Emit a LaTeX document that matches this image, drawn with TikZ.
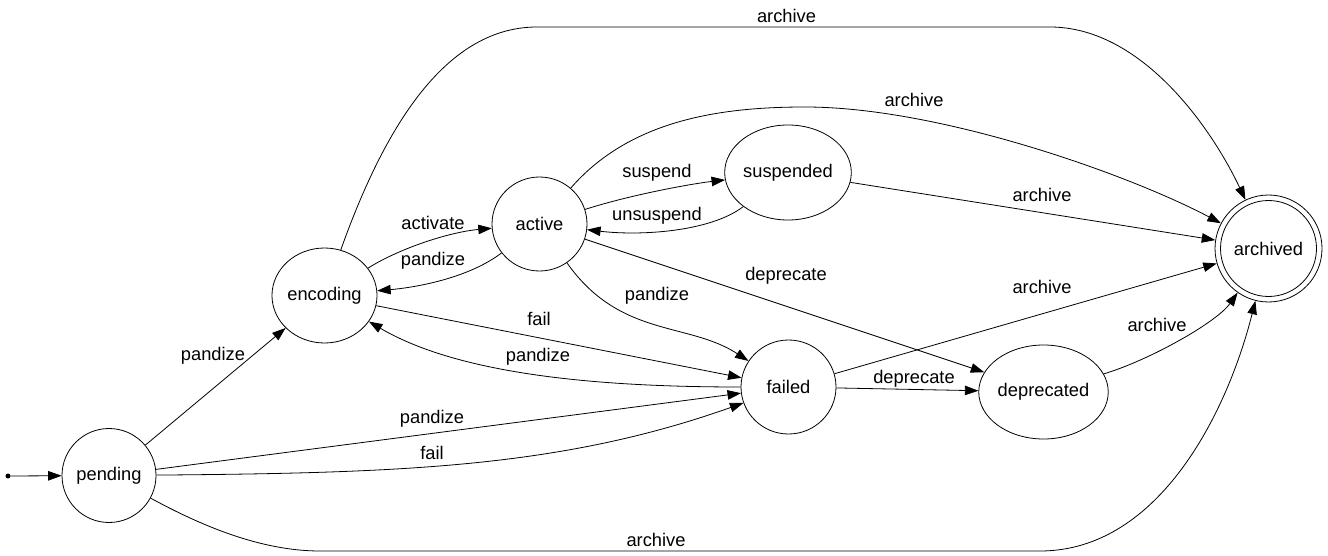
\documentclass[tikz,border=0pt]{standalone}
\usepackage{fontspec}
\setmainfont{Liberation Sans}
\usetikzlibrary{arrows.meta,shapes.geometric}
\begin{document}
\begin{tikzpicture}[x=1pt,y=-1pt,
  st/.style={ellipse, draw, line width=0.8pt, inner sep=0pt, font=\fontsize{18.3}{20}\selectfont},
  lbl/.style={inner sep=0pt, font=\fontsize{18.3}{20}\selectfont},
  arr/.style={line width=0.8pt, -{Triangle[length=13.5pt,width=9.5pt]}}]
\useasboundingbox (0,0) rectangle (1328,556);
% states
\node[circle, fill, inner sep=0pt, minimum size=5pt] (start) at (8,476) {};
\node[st, minimum width=94pt, minimum height=94pt] (pend) at (109,475.5) {pending};
\node[st, minimum width=104pt, minimum height=95pt] (enc) at (324.5,295.5) {encoding};
\node[st, minimum width=95pt, minimum height=94pt] (act) at (539.5,224) {active};
\node[st, minimum width=118pt, minimum height=95pt] (sus) at (788,172.5) {suspended};
\node[st, minimum width=95pt, minimum height=94pt] (fail) at (788.5,387) {failed};
\node[st, minimum width=119pt, minimum height=94pt] (dep) at (1043.5,392) {deprecated};
\node[circle, draw, line width=0.8pt, inner sep=0pt, minimum size=107pt, font=\fontsize{18.3}{20}\selectfont] (arch) at (1268.5,248.5) {archived};
\draw[line width=0.8pt] (arch.center) circle[radius=48pt];
% transitions
\draw[arr] (start) -- (pend);
\draw[arr] (pend) -- (enc);
\draw[arr] (pend) -- (fail);
\draw[arr] (pend) .. controls (400,473) and (560,468) .. (fail);
\draw[arr] (pend) .. controls (200,525) and (260,551) .. (320,551) -- (1040,551) .. controls (1160,551) and (1228,410) .. (arch);
\draw[arr] (enc) .. controls (380,140) and (440,27) .. (537,27) -- (1050,27) .. controls (1140,27) and (1210,125) .. (arch);
\draw[arr] (enc) .. controls (400,248) and (450,232) .. (act);
\draw[arr] (act) .. controls (470,277) and (420,287) .. (enc);
\draw[arr] (enc) -- (fail);
\draw[arr] (fail) .. controls (600,387) and (460,375) .. (enc);
\draw[arr] (act) .. controls (630,195) and (690,184) .. (sus);
\draw[arr] (sus) .. controls (710,232) and (640,236) .. (act);
\draw[arr] (act) .. controls (630,120) and (720,107) .. (805,107) .. controls (940,107) and (1130,175) .. (arch);
\draw[arr] (sus) -- (arch);
\draw[arr] (act) .. controls (620,338) and (688,321.6) .. (fail);
\draw[arr] (act) -- (dep);
\draw[arr] (fail) -- (arch);
\draw[arr] (fail) -- (dep);
\draw[arr] (dep) .. controls (1150,360) and (1217,322) .. (arch);
% labels
\node[lbl] (l1) at (213,356) {pandize};
\node[lbl] (l2) at (432,419) {pandize};
\node[lbl] (l3) at (432,453) {fail};
\node[lbl] (l4) at (656,540) {archive};
\node[lbl] (l5) at (786.5,16) {archive};
\node[lbl] (l6) at (433,223) {activate};
\node[lbl] (l7) at (433,261) {pandize};
\node[lbl] (l8) at (539,319) {fail};
\node[lbl] (l9) at (538,357) {pandize};
\node[lbl] (l10) at (657,173) {suspend};
\node[lbl] (l11) at (657,216) {unsuspend};
\node[lbl] (l12) at (914,100) {archive};
\node[lbl] (l13) at (1042,195) {archive};
\node[lbl] (l14) at (657,296) {pandize};
\node[lbl] (l15) at (786,276) {deprecate};
\node[lbl] (l16) at (1042,287) {archive};
\node[lbl] (l17) at (914,379) {deprecate};
\node[lbl] (l18) at (1157,325) {archive};
\end{tikzpicture}
\end{document}
